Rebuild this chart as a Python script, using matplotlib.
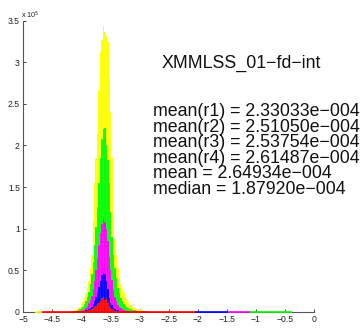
import numpy as np
import matplotlib
matplotlib.use("Agg")
import matplotlib.pyplot as plt

plt.rcParams['font.family'] = ['Liberation Sans', 'DejaVu Sans']

# histogram bins (log10 of the intensity ratio), width 0.025
bin_start = -4.16
bin_width = 0.025

# bar heights per series, in units of 1e5 counts
all_counts = [0.01, 0.015, 0.02, 0.03, 0.045, 0.06, 0.09, 0.12, 0.17, 0.22,
              0.29, 0.37, 0.52, 0.68, 1.1, 1.55, 1.85, 2.15, 2.67, 3.13,
              3.27, 3.44, 3.36, 3.32, 3.24, 2.83, 2.4, 1.85, 1.15, 0.88,
              0.68, 0.52, 0.42, 0.33, 0.27, 0.22, 0.18, 0.15, 0.12, 0.09,
              0.075, 0.06, 0.05, 0.04, 0.035, 0.03, 0.025, 0.02, 0.015, 0.012,
              0.01, 0.008]
r4_counts = [0.004, 0.006, 0.01, 0.015, 0.02, 0.03, 0.045, 0.06, 0.09, 0.13,
             0.18, 0.24, 0.33, 0.45, 0.6, 0.8, 1.02, 1.26, 1.55, 1.85,
             2.08, 2.2, 2.21, 2.0, 1.82, 1.55, 1.2, 0.9, 0.68, 0.52,
             0.4, 0.28, 0.22, 0.17, 0.13, 0.09, 0.07, 0.055, 0.045, 0.035,
             0.03, 0.025, 0.02, 0.015, 0.012, 0.01, 0.008, 0.006, 0.005, 0.004,
             0.003, 0.003]
r3_counts = [0.002, 0.003, 0.004, 0.005, 0.007, 0.01, 0.015, 0.022, 0.03, 0.045,
             0.07, 0.1, 0.14, 0.19, 0.27, 0.37, 0.5, 0.65, 0.8, 0.95,
             1.05, 1.13, 1.08, 1.0, 0.85, 0.66, 0.5, 0.38, 0.26, 0.18,
             0.13, 0.08, 0.06, 0.04, 0.03, 0.022, 0.016, 0.012, 0.01, 0.008,
             0.006, 0.005, 0.004, 0.004, 0.003, 0.003, 0.003, 0.002, 0.002, 0.002,
             0.002, 0.002]
r2_counts = [0.001, 0.002, 0.002, 0.003, 0.004, 0.005, 0.007, 0.009, 0.012, 0.016,
             0.022, 0.03, 0.045, 0.06, 0.09, 0.13, 0.18, 0.24, 0.3, 0.37,
             0.44, 0.47, 0.45, 0.37, 0.27, 0.17, 0.11, 0.075, 0.045, 0.03,
             0.02, 0.015, 0.011, 0.008, 0.006, 0.005, 0.004, 0.003, 0.003, 0.002,
             0.002, 0.002, 0.002, 0.001, 0.001, 0.001, 0.001, 0.001, 0.001, 0.001,
             0.001, 0.001]
r1_counts = [0.0005, 0.001, 0.001, 0.0015, 0.002, 0.003, 0.004, 0.005, 0.007, 0.01,
             0.013, 0.018, 0.024, 0.03, 0.04, 0.055, 0.07, 0.09, 0.11, 0.13,
             0.16, 0.18, 0.14, 0.16, 0.1, 0.07, 0.045, 0.03, 0.02, 0.014,
             0.01, 0.007, 0.005, 0.004, 0.003, 0.003, 0.002, 0.002, 0.002, 0.001,
             0.001, 0.001, 0.001, 0.001, 0.001, 0.001, 0.001, 0.001, 0.001, 0.001,
             0.001, 0.001]

series = [all_counts, r4_counts, r3_counts, r2_counts, r1_counts]
colors = ['#ffff00', '#00ff00', '#ff00ff', '#0000ff', '#ff0000']

# sparse tails along the baseline: segment edges and the colour that shows
tail_edges = [-4.80, -4.685, -2.05, -1.48, -1.10, -0.38]
tail_colors = ['#ffff00', '#ff0000', '#0000ff', '#ff00ff', '#00ff00']

stats_title = 'XMMLSS_01\u2212fd\u2212int'
stats_lines = ['mean(r1) = 2.33033e\u2212004',
               'mean(r2) = 2.51050e\u2212004',
               'mean(r3) = 2.53754e\u2212004',
               'mean(r4) = 2.61487e\u2212004',
               'mean = 2.64934e\u2212004',
               'median = 1.87920e\u2212004']

fig = plt.figure(figsize=(3.62, 3.28), dpi=100)
ax = fig.add_axes([0.0646, 0.0497, 0.803, 0.887])

centers = bin_start + bin_width * (np.arange(len(all_counts)) + 0.5)
for vals, c in zip(series, colors):
    ax.bar(centers, np.array(vals) * 1e5, width=bin_width, color=c,
           edgecolor=(1, 1, 1, 0.45), linewidth=0.1, zorder=2)

for i, c in enumerate(tail_colors):
    ax.plot([tail_edges[i], tail_edges[i + 1]], [0, 0], color=c, lw=1.2,
            solid_capstyle='butt', zorder=5, clip_on=False)

ax.set_xlim(-5, 0)
ax.set_ylim(0, 3.5e5)
ax.set_xticks(np.arange(-5, 0.01, 0.5))
ax.set_xticklabels(['\u22125', '\u22124.5', '\u22124', '\u22123.5', '\u22123',
                    '\u22122.5', '\u22122', '\u22121.5', '\u22121', '\u22120.5', '0'])
ax.set_yticks(np.arange(0, 3.51e5, 0.5e5))
ax.set_yticklabels(['0', '0.5', '1', '1.5', '2', '2.5', '3', '3.5'])
ax.tick_params(direction='in', length=2.5, width=0.6, labelsize=6.2,
               colors='#222222')
ax.tick_params(axis='x', pad=2.6)
ax.tick_params(axis='y', pad=2.6)
for side in ['top', 'right']:
    ax.spines[side].set_visible(False)
for side in ['left', 'bottom']:
    ax.spines[side].set_color('#555555')
    ax.spines[side].set_linewidth(0.8)
    ax.spines[side].set_zorder(4)

fig.text(21 / 362, 1 - 15.5 / 328, r'x 10$^5$', fontsize=5.2, va='center',
         ha='left', color='#222222')

fig.text(161.5 / 362, 1 - 63 / 328, stats_title, fontsize=12.8,
         va='center', ha='left', color='#111111')
for k, line in enumerate(stats_lines):
    fig.text(153 / 362, 1 - (111.7 + 15.5 * k) / 328, line, fontsize=12.8,
             va='center', ha='left', color='#111111')

fig.savefig('out.png', dpi=100)
